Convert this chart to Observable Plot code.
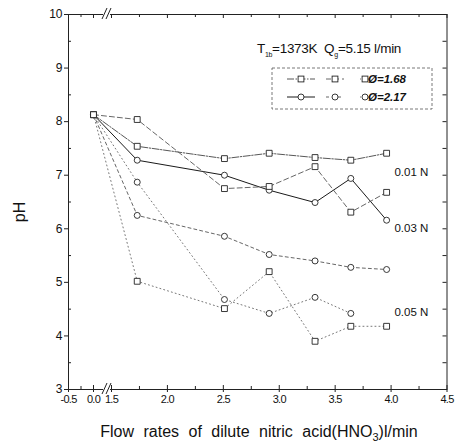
<!DOCTYPE html>
<html><head><meta charset="utf-8">
<script src="https://cdn.jsdelivr.net/npm/d3@7"></script>
<script src="https://cdn.jsdelivr.net/npm/@observablehq/plot@0.6"></script>
<style>
html,body{margin:0;padding:0;background:#fff;}
</style>
</head><body><div id="chart"></div>
<script>
const FONT = "'Liberation Sans', Arial, sans-serif";

// flow rate of dilute HNO3 (l/min) at each sampling point
const flow = [0, 1.73, 2.51, 2.91, 3.32, 3.64, 3.96];
const concentrations = ["0.01 N", "0.03 N", "0.05 N"];
const ratios = ["Ø=1.68", "Ø=2.17"];

// pH readings, one list per acid concentration and equivalence ratio
const ph_001_168 = [8.13, 7.54, 7.31, 7.41, 7.33, 7.28, 7.41];
const ph_001_217 = [8.13, 7.28, 7.00, 6.72, 6.49, 6.94, 6.16];
const ph_003_168 = [8.13, 8.04, 6.75, 6.79, 7.16, 6.31, 6.68];
const ph_003_217 = [8.13, 6.25, 5.86, 5.52, 5.40, 5.28, 5.24];
const ph_005_168 = [8.13, 5.02, 4.51, 5.20, 3.90, 4.18, 4.18];
const ph_005_217 = [8.13, 6.87, 4.68, 4.42, 4.72, 4.42, null];

// concentration tags placed beside the curves (flow, pH)
const tagFlow = [4.03, 4.03, 4.03];
const tagPH = [7.05, 6.0, 4.44];

// axis ticks
const xTickValues = [-0.5, 0, 1.5, 2, 2.5, 3, 3.5, 4, 4.5];
const xMinorValues = [-0.25, 1.75, 2.25, 2.75, 3.25, 3.75, 4.25];
const yTickValues = [3, 4, 5, 6, 7, 8, 9, 10];
const yMinorValues = [3.5, 4.5, 5.5, 6.5, 7.5, 8.5, 9.5];

// line style per concentration (index) and ratio (0 = squares, 1 = circles)
const styles = [
  [{dash: "7,1.5,1.5,1.5", stroke: "#444", width: 0.9}, {dash: null, stroke: "#1a1a1a", width: 1}],
  [{dash: "5,3", stroke: "#555", width: 0.9}, {dash: "3,3", stroke: "#555", width: 0.9}],
  [{dash: "1,3", stroke: "#777", width: 1}, {dash: "1,3", stroke: "#777", width: 1}]
];
const seriesValues = [
  [ph_001_168, ph_001_217],
  [ph_003_168, ph_003_217],
  [ph_005_168, ph_005_217]
];

const series = [];
seriesValues.forEach((pair, c) => pair.forEach((vals, r) => {
  const rows = vals.map((ph, i) => ({flow: flow[i], ph, c, r})).filter(d => d.ph != null);
  series.push({c, r, rows, style: styles[c][r]});
}));
const allRows = series.flatMap(s => s.rows);

const W = 458, H = 447;
const mL = 68, mR = 11.5, mT = 14, mB = 58;
const plotH = H - mT - mB, plotW = W - mL - mR;

const fmt = d => d.toFixed(1);

const marks = [
  // lines
  ...series.map(s => Plot.line(s.rows, {
    x: "flow", y: "ph",
    stroke: s.style.stroke, strokeWidth: s.style.width,
    strokeDasharray: s.style.dash || undefined
  })),
  // markers
  Plot.dot(allRows.filter(d => d.r === 1), {x: "flow", y: "ph", symbol: "circle", r: 3, stroke: "#222", strokeWidth: 0.9, fill: "white"}),
  Plot.dot(allRows.filter(d => d.r === 0), {x: "flow", y: "ph", symbol: "square", r: 3.3, stroke: "#222", strokeWidth: 0.9, fill: "white"}),
  // concentration tags
  Plot.text(concentrations, {x: (d, i) => tagFlow[i], y: (d, i) => tagPH[i], text: d => d, textAnchor: "start", fontSize: 11.5, fill: "#111"}),
  // frame and axes
  Plot.frame({stroke: "#222", strokeWidth: 1}),
  Plot.axisX({ticks: xTickValues, tickFormat: fmt, tickSize: 3, tickPadding: 3, label: null, fontSize: 11, stroke: "#222"}),
  Plot.axisY({ticks: yTickValues, tickFormat: d => String(d), tickSize: 4, tickPadding: 2, label: null, fontSize: 12, stroke: "#222"}),
  // inward ticks: bottom, top
  Plot.tickX(xTickValues, {x: d => d, insetTop: plotH - 4, stroke: "#222"}),
  Plot.tickX(xMinorValues, {x: d => d, insetTop: plotH - 3, stroke: "#222"}),
  Plot.tickX(xTickValues, {x: d => d, insetBottom: plotH - 4, stroke: "#222"}),
  Plot.tickX(xMinorValues, {x: d => d, insetBottom: plotH - 3, stroke: "#222"}),
  // inward ticks: left minor, right all
  Plot.tickY(yMinorValues, {y: d => d, insetRight: plotW - 3, stroke: "#222"}),
  Plot.tickY(yTickValues.concat(yMinorValues), {y: d => d, insetLeft: plotW - 4, stroke: "#222"})
];

const svg = Plot.plot({
  width: W, height: H,
  marginLeft: mL, marginRight: mR, marginTop: mT, marginBottom: mB,
  style: {fontFamily: FONT, fontSize: "11px", color: "#111", background: "white"},
  x: {type: "linear", domain: [-0.5, 0, 1.5, 4.5], range: [mL, 93, 111, W - mR]},
  y: {domain: [3, 10]},
  marks
});

// tighten the crowded x tick labels near the axis break
d3.select(svg).selectAll("[aria-label='x-axis tick label'] text").attr("letter-spacing", -0.7);

const sx = svg.scale("x"), sy = svg.scale("y");
const g = d3.select(svg).append("g").attr("font-family", FONT).attr("fill", "#111");

// axis break marks
const bx = sx.apply(1.5) - 4;
[sy.apply(3), sy.apply(10)].forEach(y0 => {
  g.append("rect").attr("x", bx - 4).attr("y", y0 - 1.5).attr("width", 7).attr("height", 3).attr("fill", "white");
  [0, 4].forEach(o => g.append("line")
    .attr("x1", bx - 5 + o).attr("y1", y0 + 5)
    .attr("x2", bx + o).attr("y2", y0 - 6)
    .attr("stroke", "#222").attr("stroke-width", 1));
});

// condition title
const t = g.append("text").attr("x", 329).attr("y", 53).attr("font-size", 13.5).attr("letter-spacing", -0.3);
t.append("tspan").text("T");
t.append("tspan").attr("dy", 4).attr("font-size", 7).text("1b");
t.append("tspan").attr("dy", -4).text("=1373K  Q");
t.append("tspan").attr("dy", 4).attr("font-size", 7).text("g");
t.append("tspan").attr("dy", -4).text("=5.15 l/min");

// legend
const lg = g.append("g");
lg.append("rect").attr("x", 272).attr("y", 68).attr("width", 160).attr("height", 41)
  .attr("fill", "none").attr("stroke", "#555").attr("stroke-width", 0.8).attr("stroke-dasharray", "3,2");
const colX = [301, 335, 365], colHalf = [14, 9, 5], rowY = [79, 97];
ratios.forEach((label, r) => {
  concentrations.forEach((c, ci) => {
    const st = styles[ci][r];
    lg.append("line").attr("x1", colX[ci] - colHalf[ci]).attr("x2", colX[ci] + colHalf[ci])
      .attr("y1", rowY[r]).attr("y2", rowY[r])
      .attr("stroke", st.stroke).attr("stroke-width", st.width)
      .attr("stroke-dasharray", st.dash);
    if (r === 0) {
      lg.append("rect").attr("x", colX[ci] - 2.9).attr("y", rowY[r] - 2.9).attr("width", 5.8).attr("height", 5.8)
        .attr("fill", "white").attr("stroke", "#222").attr("stroke-width", 0.9);
    } else {
      lg.append("circle").attr("cx", colX[ci]).attr("cy", rowY[r]).attr("r", 3)
        .attr("fill", "white").attr("stroke", "#222").attr("stroke-width", 0.9);
    }
  });
  lg.append("text").attr("x", 387).attr("y", rowY[r] + 4).attr("font-size", 11.5)
    .attr("font-weight", "bold").attr("font-style", "italic").text(label);
});

// axis titles
const xl = g.append("text").attr("x", 259).attr("y", 437).attr("text-anchor", "middle")
  .attr("font-size", 16).attr("word-spacing", 5);
xl.append("tspan").text("Flow rates of dilute nitric acid(HNO");
xl.append("tspan").attr("dy", 4).attr("font-size", 11).text("3");
xl.append("tspan").attr("dy", -4).text(")l/min");

g.append("text").attr("transform", "translate(25,212) rotate(-90)").attr("text-anchor", "middle")
  .attr("font-size", 16).text("pH");

document.getElementById("chart").appendChild(svg);
</script>
</body></html>
